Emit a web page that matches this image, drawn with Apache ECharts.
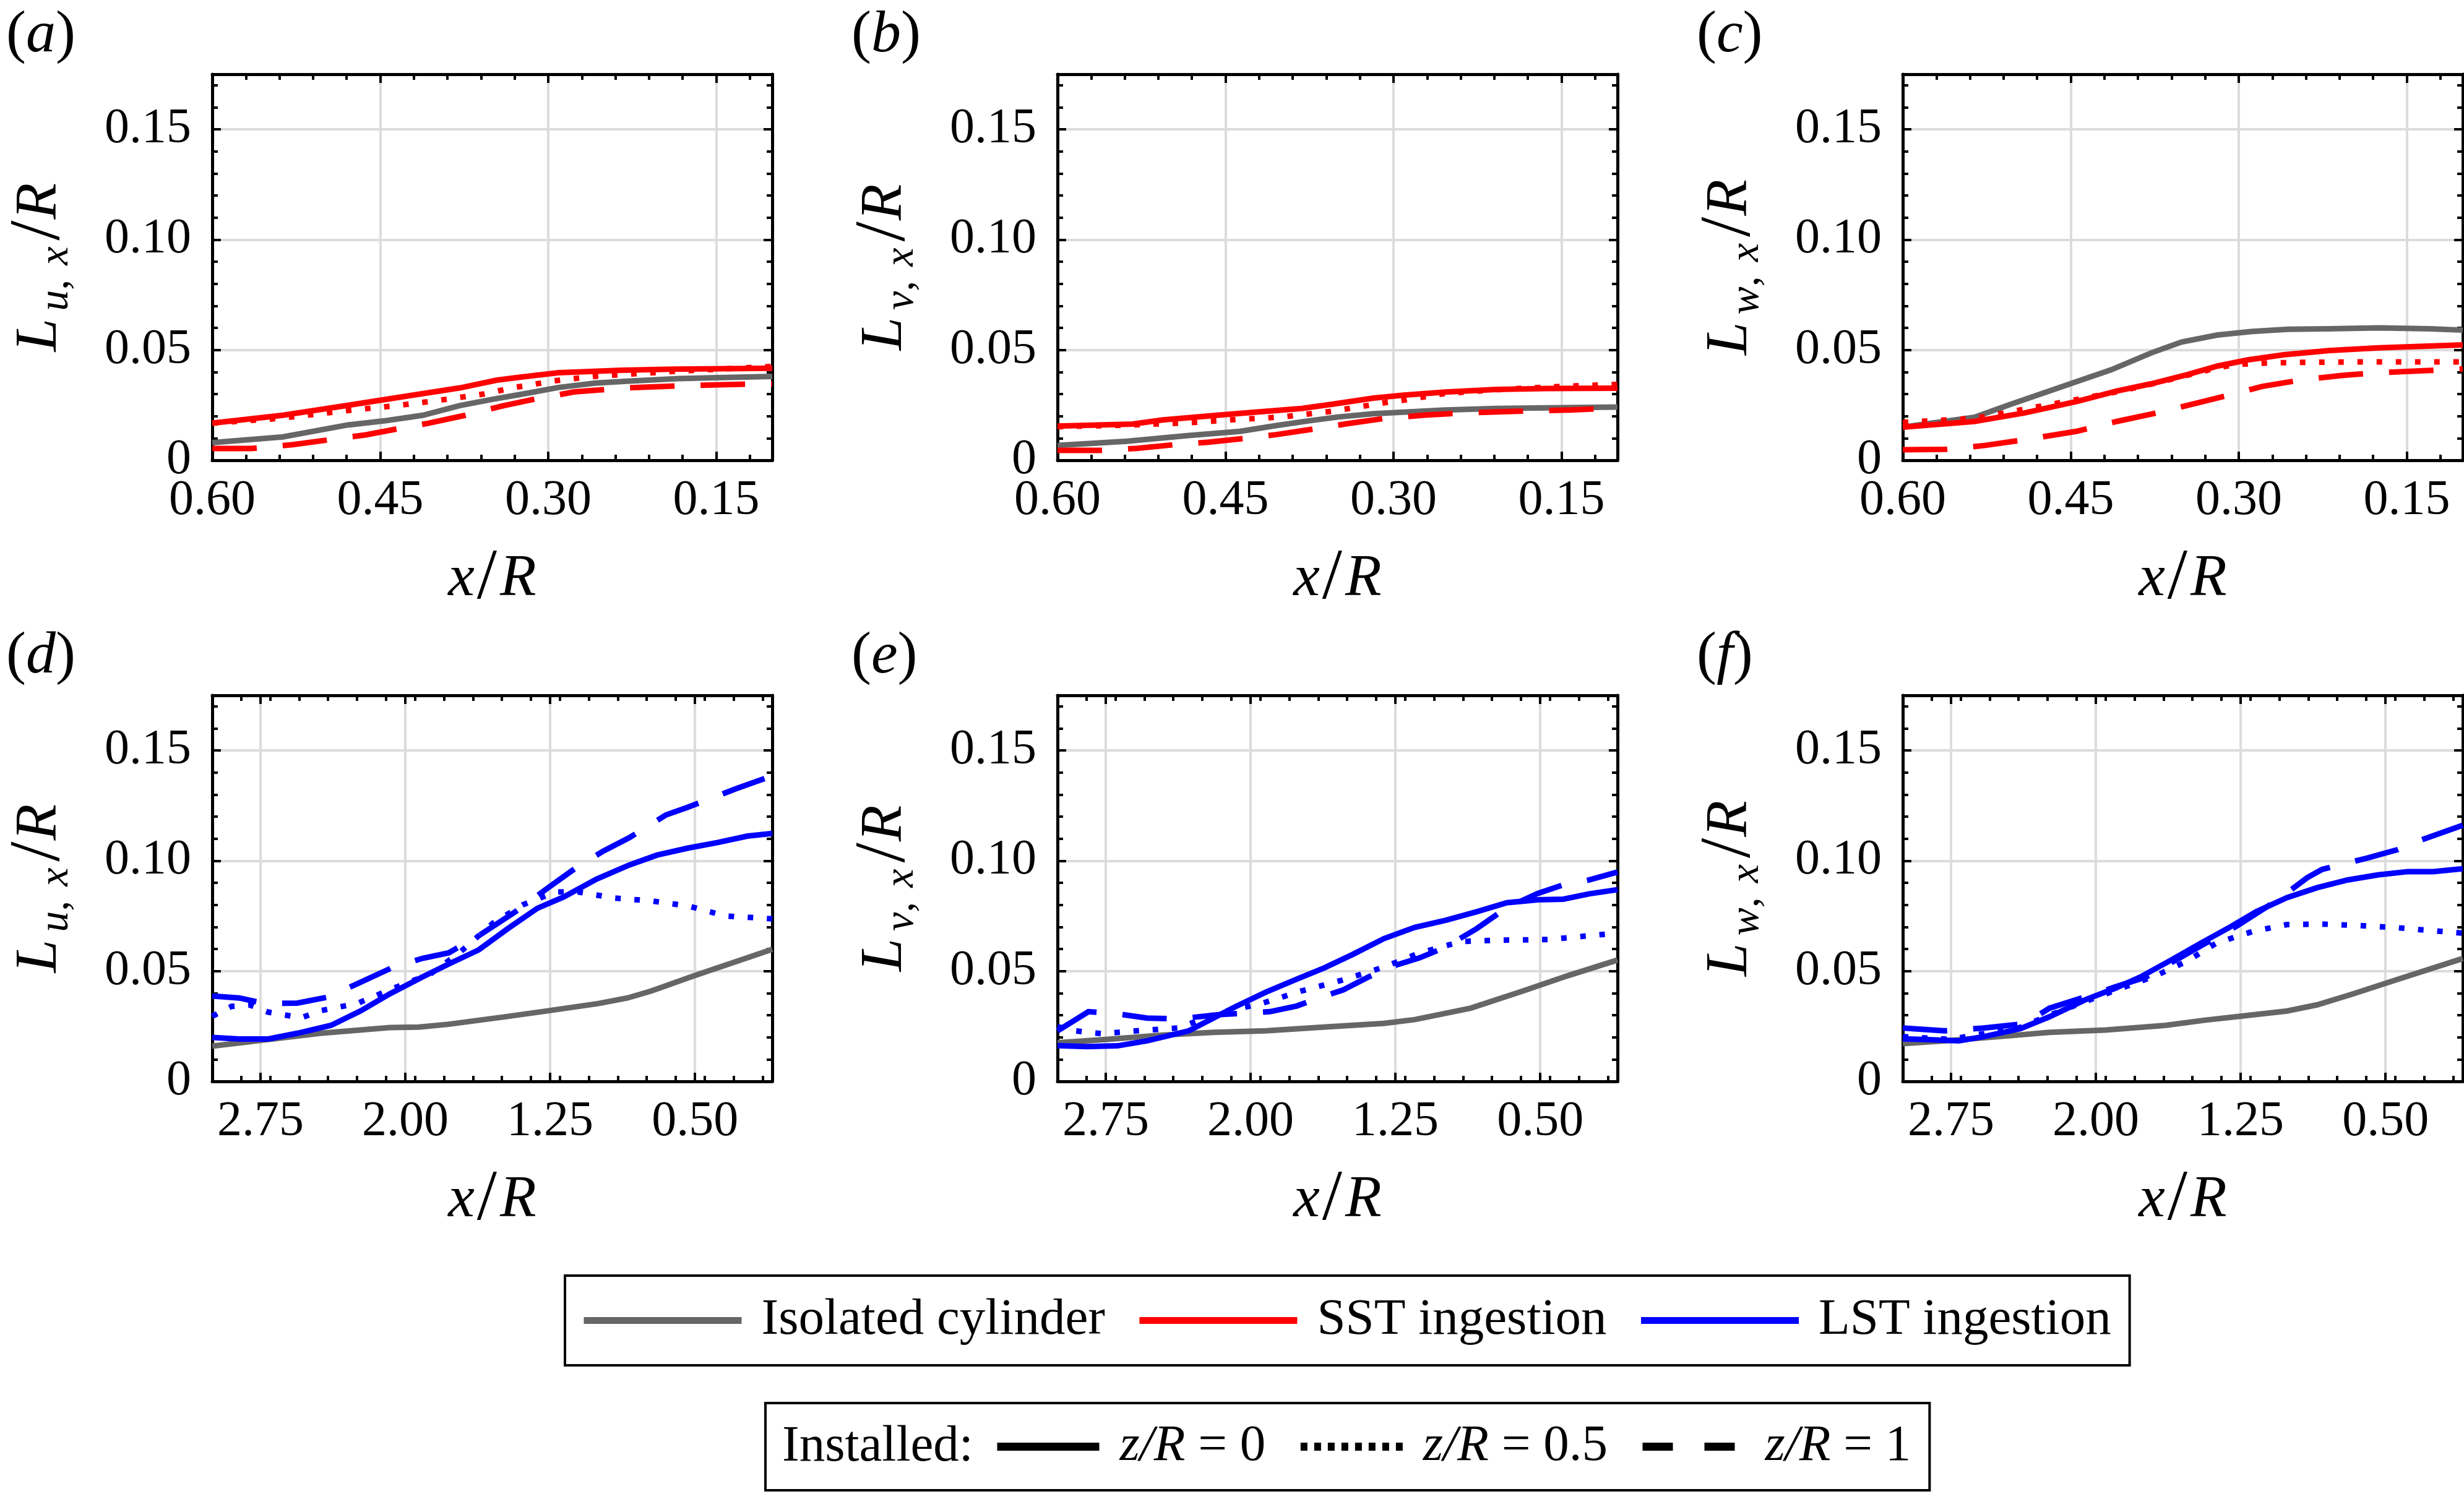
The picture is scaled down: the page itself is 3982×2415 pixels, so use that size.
<!DOCTYPE html>
<html><head><meta charset="utf-8">
<script src="https://cdn.jsdelivr.net/npm/echarts@6/dist/echarts.min.js"></script>
<style>html,body{margin:0;padding:0;background:#fff}#c{width:3982px;height:2415px}</style>
</head><body><div id="c"></div>
<script>
// ---------- tick values ----------
const topXMajor = [0.15, 0.30, 0.45, 0.60];
const topXMinor = [0.12, 0.18, 0.21, 0.24, 0.27, 0.33, 0.36, 0.39, 0.42, 0.48, 0.51, 0.54, 0.57];
const botXMajor = [0.50, 1.25, 2.00, 2.75];
const botXMinor = [0.15, 0.30, 0.45, 0.60, 0.75, 0.90, 1.05, 1.20, 1.35, 1.50, 1.65, 1.80, 1.95, 2.10, 2.25, 2.40, 2.55, 2.70, 2.85];
const yMajor = [0, 0.05, 0.10, 0.15];
const yMinor = [0.01, 0.02, 0.03, 0.04, 0.06, 0.07, 0.08, 0.09, 0.11, 0.12, 0.13, 0.14, 0.16, 0.17];

const panelLetters = ['a', 'b', 'c', 'd', 'e', 'f'];
const yComponents = ['u', 'v', 'w', 'u', 'v', 'w'];
const legendMain = ['Isolated cylinder', 'SST ingestion', 'LST ingestion'];
const legendStyle = ['z/R = 0', 'z/R = 0.5', 'z/R = 1'];

// ---------- data: [x/R, L/R] ----------
// (a)
const isoA = [[0.60,0.008],[0.537,0.0106],[0.479,0.016],[0.444,0.018],[0.412,0.0204],[0.379,0.0248],[0.351,0.0275],[0.323,0.030],[0.291,0.033],[0.258,0.035],[0.23,0.0358],[0.184,0.037],[0.137,0.0376],[0.10,0.038]];
const sstA0 = [[0.60,0.0168],[0.537,0.0204],[0.48,0.0248],[0.42,0.0296],[0.379,0.0328],[0.346,0.0363],[0.323,0.0378],[0.291,0.0397],[0.235,0.0408],[0.189,0.0413],[0.10,0.0417]];
const sstA05 = [[0.60,0.0168],[0.54,0.019],[0.48,0.0225],[0.435,0.0248],[0.40,0.027],[0.358,0.030],[0.33,0.033],[0.295,0.036],[0.26,0.038],[0.23,0.039],[0.18,0.0405],[0.14,0.0415],[0.10,0.0425]];
const sstA1 = [[0.60,0.0053],[0.565,0.0053],[0.528,0.0071],[0.463,0.0115],[0.435,0.0142],[0.407,0.0168],[0.374,0.0204],[0.342,0.0245],[0.314,0.0275],[0.277,0.031],[0.23,0.0328],[0.184,0.0337],[0.119,0.0346],[0.10,0.0346]];
// (b)
const isoB = [[0.60,0.0067],[0.538,0.0086],[0.483,0.0112],[0.437,0.0131],[0.405,0.0157],[0.378,0.0177],[0.35,0.0196],[0.318,0.0211],[0.254,0.0228],[0.208,0.0235],[0.162,0.0238],[0.10,0.0241]];
const sstB0 = [[0.60,0.0155],[0.533,0.0164],[0.506,0.0183],[0.446,0.0209],[0.382,0.0235],[0.355,0.0254],[0.318,0.0282],[0.291,0.0295],[0.254,0.0309],[0.208,0.0321],[0.162,0.0325],[0.10,0.0327]];
const sstB05 = [[0.60,0.0152],[0.533,0.016],[0.483,0.017],[0.44,0.0185],[0.40,0.0196],[0.355,0.0222],[0.309,0.026],[0.29,0.0273],[0.254,0.0303],[0.208,0.032],[0.15,0.0335],[0.10,0.0344]];
const sstB1 = [[0.60,0.0045],[0.561,0.0045],[0.529,0.0054],[0.497,0.007],[0.465,0.0082],[0.433,0.0099],[0.405,0.0116],[0.368,0.0144],[0.341,0.0166],[0.309,0.0189],[0.272,0.0205],[0.235,0.0215],[0.189,0.0222],[0.142,0.0228],[0.10,0.0238]];
// (c)
const isoC = [[0.60,0.015],[0.536,0.0195],[0.504,0.0253],[0.445,0.0356],[0.414,0.041],[0.378,0.0487],[0.351,0.0536],[0.319,0.0568],[0.288,0.0584],[0.256,0.0594],[0.22,0.0596],[0.175,0.060],[0.129,0.0596],[0.10,0.059]];
const sstC0 = [[0.60,0.015],[0.536,0.0176],[0.491,0.0215],[0.445,0.0266],[0.409,0.0314],[0.378,0.0347],[0.346,0.0388],[0.319,0.0427],[0.292,0.0455],[0.26,0.0478],[0.22,0.0497],[0.175,0.051],[0.10,0.0523]];
const sstC05 = [[0.60,0.0172],[0.536,0.019],[0.491,0.0232],[0.445,0.0275],[0.409,0.031],[0.378,0.0345],[0.346,0.0385],[0.319,0.042],[0.30,0.0435],[0.27,0.0442],[0.22,0.0445],[0.175,0.0446],[0.10,0.0446]];
const sstC1 = [[0.60,0.0048],[0.561,0.005],[0.527,0.0067],[0.491,0.0093],[0.445,0.0131],[0.409,0.0176],[0.373,0.0215],[0.337,0.026],[0.31,0.0294],[0.279,0.0335],[0.243,0.0365],[0.207,0.0385],[0.175,0.0397],[0.10,0.0414]];
// (d)
const isoD = [[3.0,0.016],[2.75,0.0186],[2.44,0.0218],[2.08,0.0244],[1.93,0.0246],[1.775,0.0259],[1.49,0.0292],[1.26,0.032],[1.0,0.0353],[0.85,0.0378],[0.725,0.041],[0.5,0.048],[0.305,0.0538],[0.1,0.0599]];
const lstD0 = [[3.0,0.0199],[2.86,0.0192],[2.71,0.0192],[2.56,0.0218],[2.385,0.0254],[2.23,0.032],[2.08,0.0397],[1.91,0.0474],[1.775,0.0532],[1.62,0.0596],[1.47,0.0692],[1.316,0.0785],[1.18,0.0836],[1.01,0.0917],[0.84,0.0981],[0.696,0.1026],[0.534,0.1058],[0.382,0.1083],[0.229,0.1112],[0.1,0.1124]];
const lstD05 = [[3.0,0.0295],[2.9,0.034],[2.805,0.0346],[2.71,0.0314],[2.54,0.0288],[2.44,0.032],[2.25,0.0353],[2.06,0.0423],[1.87,0.0487],[1.72,0.0583],[1.545,0.0718],[1.39,0.0801],[1.22,0.0859],[1.107,0.0859],[0.916,0.0831],[0.725,0.0818],[0.534,0.0795],[0.344,0.075],[0.1,0.0737]];
const lstD1 = [[3.0,0.0387],[2.86,0.0378],[2.73,0.0353],[2.56,0.0355],[2.40,0.0382],[2.25,0.0442],[2.06,0.0519],[1.91,0.0558],[1.775,0.0583],[1.62,0.066],[1.43,0.0769],[1.26,0.0878],[1.107,0.0974],[0.973,0.1045],[0.84,0.1105],[0.65,0.1208],[0.534,0.1244],[0.42,0.1282],[0.286,0.1327],[0.1,0.1385]];
// (e)
const isoE = [[3.0,0.0175],[2.75,0.019],[2.455,0.021],[2.19,0.0222],[1.92,0.0229],[1.66,0.0244],[1.31,0.0263],[1.15,0.028],[0.86,0.0332],[0.593,0.0409],[0.354,0.048],[0.1,0.055]];
const lstE0 = [[3.0,0.0162],[2.85,0.0158],[2.69,0.0161],[2.535,0.0184],[2.32,0.0229],[2.08,0.0338],[1.92,0.0405],[1.76,0.0464],[1.617,0.0515],[1.47,0.0576],[1.31,0.0647],[1.15,0.0698],[0.99,0.073],[0.83,0.0769],[0.673,0.081],[0.513,0.0823],[0.38,0.0826],[0.247,0.085],[0.1,0.0869]];
const lstE05 = [[3.0,0.0248],[2.907,0.0229],[2.77,0.0216],[2.59,0.0229],[2.375,0.0242],[2.16,0.0312],[1.95,0.0351],[1.74,0.0409],[1.52,0.046],[1.31,0.0518],[1.125,0.0582],[0.91,0.0634],[0.726,0.064],[0.46,0.0643],[0.1,0.0672]];
const lstE1 = [[3.0,0.0229],[2.84,0.0316],[2.69,0.0306],[2.535,0.0287],[2.375,0.0283],[2.16,0.0303],[2.055,0.0308],[1.9,0.0316],[1.76,0.0342],[1.63,0.0383],[1.52,0.0415],[1.39,0.0473],[1.258,0.0524],[1.125,0.056],[0.992,0.0608],[0.83,0.0692],[0.673,0.0788],[0.513,0.0852],[0.38,0.0891],[0.247,0.0913],[0.1,0.0949]];
// (f)
const isoF = [[3.0,0.0171],[2.75,0.0186],[2.5,0.0203],[2.24,0.0222],[1.95,0.0233],[1.64,0.0254],[1.43,0.0278],[1.245,0.0296],[1.01,0.0319],[0.854,0.0347],[0.67,0.0396],[0.436,0.0463],[0.1,0.0557]];
const lstF0 = [[3.0,0.0193],[2.89,0.019],[2.71,0.0184],[2.58,0.0203],[2.39,0.0239],[2.24,0.0293],[2.055,0.037],[1.9,0.0422],[1.77,0.0473],[1.61,0.055],[1.455,0.0627],[1.3,0.0702],[1.17,0.0769],[1.01,0.0833],[0.854,0.0878],[0.697,0.0913],[0.54,0.0936],[0.384,0.0951],[0.253,0.0951],[0.1,0.0964]];
const lstF05 = [[3.0,0.0203],[2.89,0.0197],[2.75,0.019],[2.63,0.021],[2.42,0.0235],[2.24,0.030],[2.03,0.037],[1.85,0.0428],[1.69,0.0479],[1.53,0.0544],[1.376,0.0627],[1.19,0.0679],[1.01,0.0711],[0.83,0.0713],[0.645,0.0707],[0.46,0.0698],[0.1,0.0672]];
const lstF1 = [[3.0,0.0242],[2.786,0.0229],[2.58,0.0242],[2.37,0.0261],[2.24,0.0332],[2.055,0.0383],[1.9,0.0428],[1.74,0.0473],[1.585,0.055],[1.43,0.0627],[1.27,0.0704],[1.063,0.082],[0.906,0.0923],[0.828,0.0961],[0.593,0.1013],[0.436,0.1051],[0.33,0.109],[0.1,0.1161]];

const panelData = [
  [isoA, sstA0, sstA05, sstA1],
  [isoB, sstB0, sstB05, sstB1],
  [isoC, sstC0, sstC05, sstC1],
  [isoD, lstD0, lstD05, lstD1],
  [isoE, lstE0, lstE05, lstE1],
  [isoF, lstF0, lstF05, lstF1]
];

// ---------- styling / layout ----------
const FONT = 'Liberation Serif';
const GRAY = '#666666', RED = '#ff0000', BLUE = '#0000ff';
const colLeft = [343, 1709, 3075];
const rowTop = [120, 1124];
const PW = 905, PH = 624;
const LW = 9;
const DOT = [9, 22], DASH = [72, 42];
const tickStyle = {color: '#000', width: 4};
const frameStyle = {color: '#000', width: 5};

const grids = [], xAxes = [], yAxes = [], series = [], titles = [];

panelLetters.forEach((letter, i) => {
  const col = i % 3, row = Math.floor(i / 3);
  grids.push({left: colLeft[col], top: rowTop[row], width: PW, height: PH, outerBoundsMode: 'none', containLabel: false});
  const xMax = row === 0 ? 0.6 : 3.0;
  const xMaj = row === 0 ? topXMajor : botXMajor;
  const xMin = row === 0 ? topXMinor : botXMinor;
  const xb = {type: 'value', gridIndex: i, min: 0.1, max: xMax, inverse: true,
    axisLine: {show: false, onZero: false}, axisLabel: {show: false}, axisTick: {show: false}, splitLine: {show: false}};
  xAxes.push(Object.assign({}, xb, {
    position: 'bottom',
    axisLine: {show: true, onZero: false, lineStyle: frameStyle},
    axisTick: {show: true, inside: true, length: 14, customValues: xMaj, lineStyle: tickStyle},
    axisLabel: {show: true, customValues: xMaj, margin: 26, formatter: v => v.toFixed(2),
      fontFamily: FONT, fontSize: 80, color: '#000'},
    splitLine: {show: true, lineStyle: {color: '#dcdcdc', width: 4}},
    name: '{i|x}{sl|/}{r|R}', nameLocation: 'middle', nameGap: 138, nameMoveOverlap: false,
    nameTextStyle: {color: '#000', rich: {
      i: {fontFamily: FONT, fontStyle: 'italic', fontSize: 96, lineHeight: 110, color: '#000'},
      sl: {fontFamily: FONT, fontSize: 116, lineHeight: 110, color: '#000', padding: [0, 0, 0, 4]},
      r: {fontFamily: FONT, fontStyle: 'italic', fontSize: 96, lineHeight: 110, color: '#000', padding: [0, 0, 0, 5]}
    }}
  }));
  xAxes.push(Object.assign({}, xb, {position: 'bottom',
    axisTick: {show: true, inside: true, length: 9, customValues: xMin, lineStyle: tickStyle}}));
  xAxes.push(Object.assign({}, xb, {position: 'top',
    axisLine: {show: true, onZero: false, lineStyle: frameStyle},
    axisTick: {show: true, inside: true, length: 14, customValues: xMaj, lineStyle: tickStyle}}));
  xAxes.push(Object.assign({}, xb, {position: 'top',
    axisTick: {show: true, inside: true, length: 9, customValues: xMin, lineStyle: tickStyle}}));

  const yb = {type: 'value', gridIndex: i, min: 0, max: 0.175,
    axisLine: {show: false, onZero: false}, axisLabel: {show: false}, axisTick: {show: false}, splitLine: {show: false}};
  const comp = yComponents[i];
  yAxes.push(Object.assign({}, yb, {
    position: 'left',
    axisLine: {show: true, onZero: false, lineStyle: frameStyle},
    axisTick: {show: true, inside: true, length: 14, customValues: yMajor, lineStyle: tickStyle},
    axisLabel: {show: true, customValues: yMajor, margin: 34, formatter: v => v === 0 ? '0' : v.toFixed(2),
      fontFamily: FONT, fontSize: 80, color: '#000'},
    splitLine: {show: true, lineStyle: {color: '#dcdcdc', width: 4}},
    name: '{L|L}{s|' + comp + '}{c|, }{s|x}{sl|/}{R|R}', nameLocation: 'middle', nameGap: 218, nameRotate: 90, nameMoveOverlap: false,
    nameTextStyle: {color: '#000', rich: {
      L: {fontFamily: FONT, fontStyle: 'italic', fontSize: 96, lineHeight: 120, verticalAlign: 'middle', color: '#000', padding: [0, 12, 0, 0]},
      s: {fontFamily: FONT, fontStyle: 'italic', fontSize: 68, lineHeight: 40, verticalAlign: 'bottom', color: '#000'},
      c: {fontFamily: FONT, fontSize: 68, lineHeight: 40, verticalAlign: 'bottom', color: '#000', padding: [0, 6, 0, 0]},
      sl: {fontFamily: FONT, fontSize: 116, lineHeight: 120, verticalAlign: 'middle', color: '#000', padding: [0, 2, 0, 10]},
      R: {fontFamily: FONT, fontStyle: 'italic', fontSize: 96, lineHeight: 120, verticalAlign: 'middle', color: '#000'}
    }}
  }));
  yAxes.push(Object.assign({}, yb, {position: 'left',
    axisTick: {show: true, inside: true, length: 9, customValues: yMinor, lineStyle: tickStyle}}));
  yAxes.push(Object.assign({}, yb, {position: 'right',
    axisLine: {show: true, onZero: false, lineStyle: frameStyle},
    axisTick: {show: true, inside: true, length: 14, customValues: yMajor, lineStyle: tickStyle}}));
  yAxes.push(Object.assign({}, yb, {position: 'right',
    axisTick: {show: true, inside: true, length: 9, customValues: yMinor, lineStyle: tickStyle}}));

  const main = row === 0 ? RED : BLUE;
  const mainName = row === 0 ? legendMain[1] : legendMain[2];
  const styles = [
    {name: legendMain[0], color: GRAY, type: 'solid'},
    {name: mainName, color: main, type: 'solid'},
    {name: mainName + ' (z/R = 0.5)', color: main, type: DOT},
    {name: mainName + ' (z/R = 1)', color: main, type: DASH}
  ];
  panelData[i].forEach((d, k) => {
    const s = styles[k];
    series.push({type: 'line', name: s.name, xAxisIndex: 4 * i, yAxisIndex: 4 * i, data: d,
      symbol: 'none', silent: true, animation: false, z: 3 + k,
      color: s.color, lineStyle: {color: s.color, width: LW, type: s.type, cap: 'butt', join: 'miter'}});
  });

  titles.push({text: '{p|(}{i|' + letter + '}{p|)}', left: colLeft[col] - 338, top: rowTop[row] - 115,
    textStyle: {fontWeight: 'normal', rich: {
      p: {fontFamily: FONT, fontSize: 96, fontWeight: 'normal', color: '#000'},
      i: {fontFamily: FONT, fontStyle: 'italic', fontSize: 96, fontWeight: 'normal', color: '#000'}
    }}});
});

// legend-only series for the installed-position styles
const styleTypes = ['solid', [11, 11], [49, 51]];
legendStyle.forEach((n, k) => {
  series.push({type: 'line', name: n, xAxisIndex: 0, yAxisIndex: 0, data: [], symbol: 'none', silent: true,
    color: '#000', lineStyle: {color: '#000', width: 13, type: styleTypes[k], cap: 'butt'}});
});

titles.push({text: 'Installed:', left: 1259, top: 2293,
  textStyle: {fontFamily: FONT, fontSize: 83, fontWeight: 'normal', color: '#000'}});

const option = {
  backgroundColor: '#fff',
  animation: false,
  title: titles,
  grid: grids,
  xAxis: xAxes,
  yAxis: yAxes,
  legend: [
    {data: legendMain, left: 913, top: 2062, orient: 'horizontal', selectedMode: false,
      padding: [31, 30, 31, 25], itemWidth: 255, itemHeight: 14, itemGap: 50,
      borderColor: '#000', borderWidth: 4, backgroundColor: '#fff',
      lineStyle: {width: 11}, itemStyle: {opacity: 0},
      textStyle: {fontFamily: FONT, fontSize: 83, color: '#000', padding: [0, 0, 0, 27]}},
    {data: legendStyle, left: 1237, top: 2268, orient: 'horizontal', selectedMode: false,
      padding: [29, 30, 29, 368], itemWidth: 165, itemHeight: 14, itemGap: 50,
      borderColor: '#000', borderWidth: 4,
      lineStyle: {width: 13}, itemStyle: {opacity: 0},
      formatter: n => '{i|z/R}{r|' + n.slice(3) + '}',
      textStyle: {color: '#000', padding: [0, 0, 0, 28], rich: {
        i: {fontFamily: FONT, fontStyle: 'italic', fontSize: 83, color: '#000'},
        r: {fontFamily: FONT, fontSize: 83, color: '#000'}
      }}}
  ],
  series: series
};

const chart = echarts.init(document.getElementById('c'), null, {renderer: 'canvas'});
chart.setOption(option);
</script>
</body></html>
